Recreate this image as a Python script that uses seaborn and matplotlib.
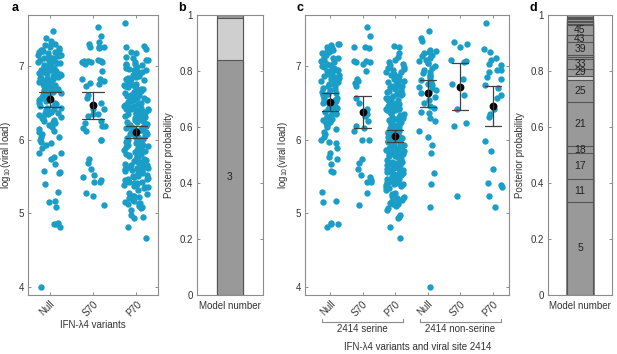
import numpy as np
import pandas as pd
import matplotlib
matplotlib.use('Agg')
import matplotlib.pyplot as plt
import matplotlib.transforms as mtransforms
from matplotlib.ticker import FormatStrFormatter
import seaborn as sns

variants = ['Null', 'S70', 'P70']
sites = ['2414 serine', '2414 non-serine']

# log10 viral load per patient (one list per variant / site group)
null_serine = [7.30, 7.29, 7.28, 7.25, 7.24, 7.22, 7.21, 7.20, 7.19, 7.17,
               7.15, 7.12, 7.11, 7.10, 7.08, 7.06, 7.05, 7.03, 7.01, 7.00,
               6.98, 6.97, 6.96, 6.95, 6.94, 6.93, 6.92, 6.91, 6.90, 6.89,
               6.88, 6.87, 6.86, 6.85, 6.84, 6.83, 6.82, 6.80, 6.79, 6.78,
               6.76, 6.75, 6.73, 6.72, 6.70, 6.68, 6.67, 6.65, 6.63, 6.62,
               6.60, 6.58, 6.57, 6.55, 6.53, 6.52, 6.50, 6.48, 6.46, 6.45,
               6.43, 6.42, 6.40, 6.38, 6.36, 6.35, 6.33, 6.31, 6.30, 6.28,
               6.26, 6.24, 6.22, 6.20, 6.17, 6.14, 6.10, 6.07, 6.04, 5.99,
               5.96, 5.95, 5.88, 5.82, 5.76, 5.74, 5.67, 5.57, 5.56, 5.29,
               5.17, 5.15, 4.87, 4.86, 4.85, 4.81]
s70_serine = [7.53, 7.41, 7.26, 7.25, 7.24, 7.07, 7.06, 7.05, 7.05, 7.02,
              6.93, 6.82, 6.80, 6.77, 6.73, 6.57, 6.50, 6.41, 6.34, 6.34,
              6.32, 6.25, 6.18, 6.16, 6.11, 6.00, 5.99, 5.74, 5.68, 5.60,
              5.52, 5.49, 5.45, 5.43, 5.42, 5.27, 5.11]
p70_serine = [7.27, 7.26, 7.18, 7.12, 7.08, 7.05, 7.03, 7.01,
              6.99, 6.97, 6.96, 6.94, 6.92, 6.91, 6.89, 6.87, 6.86, 6.84,
              6.82, 6.81, 6.79, 6.78, 6.76, 6.75, 6.74, 6.73, 6.72, 6.71,
              6.69, 6.68, 6.66, 6.66, 6.65, 6.63, 6.62, 6.62, 6.60, 6.59,
              6.57, 6.57, 6.56, 6.54, 6.53, 6.52, 6.51, 6.50, 6.48, 6.48,
              6.47, 6.45, 6.45, 6.44, 6.43, 6.42, 6.42, 6.41, 6.40, 6.40,
              6.39, 6.38, 6.36, 6.36, 6.35, 6.33, 6.32, 6.31, 6.30, 6.29,
              6.28, 6.27, 6.25, 6.24, 6.24, 6.22, 6.21, 6.20, 6.19, 6.18,
              6.16, 6.16, 6.15, 6.14, 6.13, 6.12, 6.12, 6.11, 6.10, 6.10,
              6.13, 6.17, 6.09, 6.08, 6.07, 6.06, 6.04, 6.03, 6.02, 6.01,
              6.00, 5.99, 5.98, 5.97, 5.96, 5.95, 5.94, 5.93, 5.91, 5.90,
              5.89, 5.88, 5.87, 5.86, 5.85, 5.84, 5.83, 5.82, 5.81, 5.80,
              6.05, 5.97, 5.92, 5.86, 5.79, 5.78, 5.77, 5.76, 5.74, 5.73,
              5.72, 5.71, 5.70, 5.69, 5.68, 5.66, 5.65, 5.64, 5.63, 5.62,
              5.61, 5.60, 5.59, 5.58, 5.57, 5.56, 5.55, 5.54, 5.53, 5.52,
              5.51, 5.50, 5.67, 5.58, 5.49, 5.48, 5.47, 5.46, 5.45, 5.44,
              5.43, 5.42, 5.41, 5.40, 5.39, 5.38, 5.37, 5.36, 5.34, 5.31,
              5.28, 5.26, 5.24, 5.22, 5.21, 5.20, 5.18, 5.16, 5.15, 5.14,
              5.13, 5.12, 5.10, 5.07, 5.05, 4.98, 4.95, 4.93, 4.81, 4.66]
null_nonserine = [7.47, 7.38, 7.34, 7.22, 7.20, 7.19, 7.17, 7.15, 7.13, 7.10,
                  7.08, 7.06, 7.04, 7.04, 7.00, 6.97, 6.95, 6.92, 6.90, 6.88,
                  6.86, 6.84, 6.81, 6.78, 6.76, 6.74, 6.71, 6.70, 6.67, 6.65,
                  6.63, 6.58, 6.54, 6.49, 6.45, 6.43, 6.38, 6.36, 6.29, 6.25,
                  6.11, 6.04, 5.93, 5.82, 5.55, 5.39, 5.08, 4.00]
s70_nonserine = [7.33, 7.29, 7.26, 7.08, 7.07, 7.05, 6.82, 6.76, 6.61, 6.41,
                 6.23, 6.18, 5.23]
p70_nonserine = [7.58, 7.23, 7.19, 7.11, 7.08, 7.02, 7.01, 6.95, 6.94, 6.92,
                 6.85, 6.82, 6.74, 6.70, 6.61, 6.57, 6.42, 6.35, 6.30, 5.98,
                 5.85, 5.60, 5.41, 5.38, 5.35, 5.23, 5.08]

# posterior probability of each model, stacked bottom to top
b_models = ['3', '', '']
b_probs = [0.84, 0.15, 0.01]
d_models = ['5', '11', '17', '18', '21', '25', '', '29', '33', '', '', '39', '43', '45',
            '', '', '', '', '', '', '']
d_probs = [0.333, 0.080, 0.093, 0.026, 0.158, 0.078, 0.014, 0.026, 0.035, 0.007,
           0.007, 0.045, 0.028, 0.033, 0.006, 0.005, 0.005, 0.005, 0.005, 0.005, 0.006]

# build long table
groups = {
    ('Null', sites[0]): null_serine, ('S70', sites[0]): s70_serine, ('P70', sites[0]): p70_serine,
    ('Null', sites[1]): null_nonserine, ('S70', sites[1]): s70_nonserine, ('P70', sites[1]): p70_nonserine,
}
rows = []
for (var, site), vals in groups.items():
    for v in vals:
        rows.append({'variant': var, 'site': site, 'group': var + ' | ' + site, 'load': v})
df = pd.DataFrame(rows)
group_order = [v + ' | ' + s for s in sites for v in variants]

# style
sns.set_theme(style='white')
plt.rcParams['font.family'] = ['Liberation Sans', 'DejaVu Sans']
plt.rcParams['mathtext.fontset'] = 'custom'
plt.rcParams['mathtext.rm'] = 'Liberation Sans'
plt.rcParams['mathtext.it'] = 'Liberation Sans'
np.random.seed(3)  # stripplot jitter only

dot = '#1a9ec8'
edge = '#8c8c8c'
txt = '#333333'
mid_grey = '#999999'
light_grey = '#cfcfcf'
b_light = {1}
d_light = {6}
fs = 7

W, H = 617, 354
fig = plt.figure(figsize=(W / 100, H / 100), dpi=100)


def box(x0, x1):
    return [x0 / W, (H - 295) / H, (x1 - x0) / W, 280 / H]


ax_a = fig.add_axes(box(28, 158))
ax_b = fig.add_axes(box(197, 263))
ax_c = fig.add_axes(box(305, 509))
ax_d = fig.add_axes(box(548, 612))


def style(ax):
    for s in ax.spines.values():
        s.set_color(edge)
        s.set_linewidth(0.8)
    ax.tick_params(direction='in', length=2.5, width=0.7, color=edge, labelcolor=txt,
                   labelsize=fs, top=True, right=True, left=True, bottom=True, pad=3)


def strip_panel(ax, x, order):
    sns.stripplot(data=df, x=x, y='load', order=order, color=dot, size=4.6, jitter=0.28,
                  linewidth=0, ax=ax, zorder=1)
    sns.pointplot(data=df, x=x, y='load', order=order, color='black', linestyle='none',
                  errorbar=('se', 1.96), capsize=0.5, markersize=3.6,
                  err_kws={'linewidth': 0.9, 'color': '0.25'}, ax=ax)
    ax.set_ylim(3.89, 7.69)
    ax.set_yticks([4, 5, 6, 7])
    ax.set_xticks(range(len(order)))
    ax.set_ylabel(r'log$_{10}$(viral load)', fontsize=fs, color=txt, labelpad=4)
    style(ax)


def stack_panel(ax, probs, labels, light):
    cum = np.cumsum(probs)
    for i in reversed(range(len(probs))):
        col = light_grey if i in light else mid_grey
        sns.barplot(x=[0], y=[cum[i]], color=col, edgecolor='#555555', linewidth=0.8,
                    width=0.68, saturation=1, ax=ax)
    for i, lab in enumerate(labels):
        if lab:
            ax.text(0, cum[i] - probs[i] / 2, lab, ha='center', va='center',
                    fontsize=fs + 0.5, color='#222222')
    ax.set_xlim(-0.85, 0.85)
    ax.set_ylim(0, 1)
    ax.set_yticks(np.arange(0, 1.01, 0.2))
    ax.yaxis.set_major_formatter(FormatStrFormatter('%g'))
    ax.set_xticks([])
    ax.set_xlabel('Model number', fontsize=fs, color=txt, labelpad=4)
    ax.set_ylabel('Posterior probability', fontsize=fs, color=txt, labelpad=4)
    style(ax)


# panel a
strip_panel(ax_a, 'variant', variants)
ax_a.set_xlim(-0.5, 2.5)
ax_a.set_xticklabels(variants, rotation=45, ha='right', rotation_mode='anchor')
ax_a.set_xlabel('IFN-λ4 variants', fontsize=fs, color=txt, labelpad=1)

# panel c
strip_panel(ax_c, 'group', group_order)
ax_c.set_xlim(-0.77, 5.5)
ax_c.set_xticklabels(variants * 2, rotation=45, ha='right', rotation_mode='anchor')
ax_c.set_xlabel('')
trans = mtransforms.blended_transform_factory(ax_c.transData, ax_c.transAxes)
for k, site in enumerate(sites):
    lo, hi = 3 * k - 0.25, 3 * k + 2.25
    ax_c.plot([lo, lo, hi, hi], [-0.085, -0.095, -0.095, -0.085], transform=trans,
              color=edge, lw=0.8, clip_on=False)
    ax_c.text(3 * k + 1, -0.12, site, transform=trans, ha='center', va='center',
              fontsize=fs, color=txt)
ax_c.text(0.55, -0.185, 'IFN-λ4 variants and viral site 2414', transform=ax_c.transAxes,
          ha='center', va='center', fontsize=fs, color=txt)

# panels b, d
stack_panel(ax_b, b_probs, b_models, b_light)
stack_panel(ax_d, d_probs, d_models, d_light)

# panel letters
for ax, letter, dx in [(ax_a, 'a', -13), (ax_b, 'b', -15), (ax_c, 'c', -5), (ax_d, 'd', -15)]:
    x0 = ax.get_position().x0 * W + dx
    fig.text(x0 / W, 1 - 8 / H, letter, fontsize=9, fontweight='bold', ha='center',
             va='center', color='black')

fig.savefig('out.png', dpi=100)
print('saved out.png')
